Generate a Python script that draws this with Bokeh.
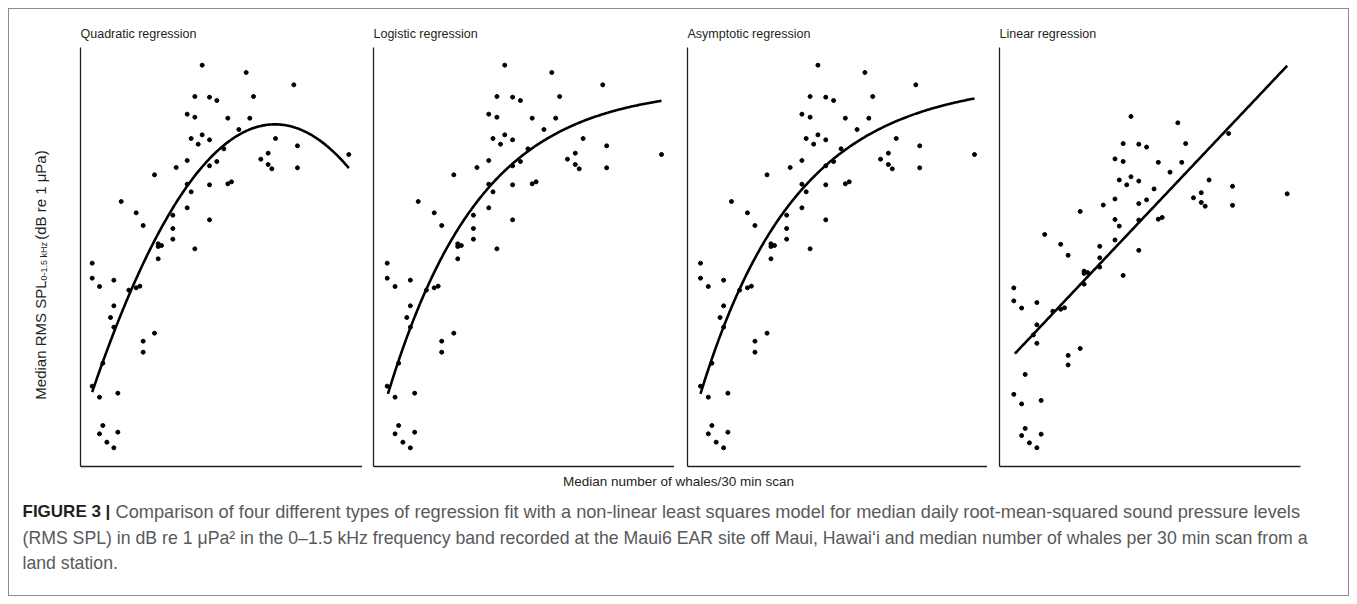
import numpy as np
from bokeh.plotting import figure
from bokeh.layouts import row, column
from bokeh.models import Range1d
from bokeh.core.properties import value
from bokeh.embed import file_html
from bokeh.resources import INLINE

# --- data: one point per day (median whales / 30 min scan, median RMS SPL dB re 1 uPa) ---
whales = [0.30, 0.30, 0.52, 0.95, 0.95, 0.85, 0.95, 0.62, 0.30, 0.52,
          1.07, 0.62, 0.52, 1.07, 0.74, 0.95, 1.17, 1.62, 1.83, 1.40,
          1.62, 1.73, 1.83, 1.83, 2.17, 2.17, 2.28, 2.28, 2.38, 2.28,
          2.72, 2.72, 2.72, 2.82, 3.15, 3.15, 3.27, 3.15, 3.38, 3.15,
          3.38, 3.27, 3.48, 3.60, 3.38, 3.82, 4.04, 3.60, 3.82, 3.82,
          4.04, 4.25, 3.82, 3.82, 4.37, 4.48, 4.37, 4.70, 4.92, 5.03,
          5.14, 5.36, 5.58, 5.58, 5.69, 5.80, 6.35, 6.46, 6.46, 8.00]
spl = [105.72, 105.27, 105.02, 105.21, 104.44, 104.09, 103.80, 102.72, 102.03, 101.70,
       101.82, 100.85, 100.60, 100.65, 100.35, 100.18, 107.57, 107.23, 106.85, 104.91,
       104.98, 105.03, 103.38, 103.05, 103.62, 108.37, 106.30, 106.22, 106.25, 105.85,
       107.16, 106.76, 106.44, 108.59, 108.80, 108.09, 107.86, 107.38, 106.15, 110.19,
       110.10, 109.46, 109.29, 109.57, 110.72, 110.70, 110.60, 111.66, 109.42, 108.64,
       108.77, 109.15, 108.07, 107.02, 108.10, 108.16, 110.07, 109.73, 111.44, 110.07,
       110.72, 108.84, 109.02, 108.68, 108.55, 109.46, 111.07, 109.24, 108.58, 108.98]

# fitted model parameters
quad_a, quad_b, quad_c = 100.95, 3.089, -0.267
logis_asym, logis_xmid, logis_scal = 111.0, -5.46, 2.405
asym_asym, asym_r0, asym_rate = 111.2, 100.69, 0.371
lin_a, lin_b = 103.01, 1.301
fit_from = [0.30, 0.32, 0.30, 0.33]
fit_to = 8.0

titles = ["Quadratic regression", "Logistic regression",
          "Asymptotic regression", "Linear regression"]

FONT = value("Liberation Sans")
INK = "#231f20"


def quadratic(x):
    return quad_a + quad_b * x + quad_c * x ** 2


def logistic(x):
    return logis_asym / (1 + np.exp((logis_xmid - x) / logis_scal))


def asymptotic(x):
    return asym_asym + (asym_r0 - asym_asym) * np.exp(-asym_rate * x)


def linear(x):
    return lin_a + lin_b * x


models = [quadratic, logistic, asymptotic, linear]

# panel geometry: x range, y range, width, left border, right border
panel_cfg = [
    ((-0.051, 8.411), (99.62, 112.19), 287, 5, 0),
    ((-0.085, 8.365), (99.62, 112.19), 312, 11, 0),
    ((-0.065, 8.365), (99.62, 112.19), 313, 13, 0),
    ((-0.103, 8.375), (99.53, 114.05), 361, 12, 48),
]

ROW_H = 464

panels = []
for title, model, start, (xr, yr, w, bl, br) in zip(titles, models, fit_from, panel_cfg):
    p = figure(width=w, height=ROW_H, x_range=Range1d(*xr), y_range=Range1d(*yr),
               toolbar_location=None, output_backend="svg",
               min_border_left=bl, min_border_right=br,
               min_border_top=38, min_border_bottom=7)
    p.title.text = title
    p.title.align = "left"
    p.title.text_font = "Liberation Sans"
    p.title.text_font_size = "12.5px"
    p.title.text_font_style = "normal"
    p.title.text_color = INK
    p.title.standoff = 13
    p.xgrid.visible = False
    p.ygrid.visible = False
    p.outline_line_color = None
    for ax in (p.xaxis[0], p.yaxis[0]):
        ax.ticker = []
        ax.major_tick_line_color = None
        ax.minor_tick_line_color = None
        ax.major_label_text_font_size = "0px"
        ax.axis_line_color = INK
        ax.axis_line_width = 1.3

    p.scatter(whales, spl, marker="circle", size=4, color="black")
    xs = np.linspace(start, fit_to, 200)
    p.line(xs, model(xs), line_width=2.6, color="black")
    panels.append(p)

# y axis title with subscript, drawn as rotated text
ylab = figure(width=66, height=ROW_H, x_range=Range1d(0, 66), y_range=Range1d(0, ROW_H),
              toolbar_location=None, output_backend="svg", min_border=0,
              x_axis_type=None, y_axis_type=None)
ylab.outline_line_color = None
ylab.grid.visible = False
ylab.text(x=[31, 31], y=[74, 251], text=["Median RMS SPL", " (dB re 1 \u03bcPa)"],
          angle=np.pi / 2, text_font=FONT, text_font_size=value("15px"),
          text_color=INK, text_align="left", text_baseline="alphabetic")
ylab.text(x=[34.5], y=[206], text=["0-1.5 kHz"], angle=np.pi / 2,
          text_font=FONT, text_font_size=value("9px"),
          text_color=INK, text_align="left", text_baseline="alphabetic")

# shared x label and figure caption
CAP_W, CAP_H = 1339, 122
cap = figure(width=CAP_W, height=CAP_H, x_range=Range1d(0, CAP_W), y_range=Range1d(0, CAP_H),
             toolbar_location=None, output_backend="svg", min_border=0,
             x_axis_type=None, y_axis_type=None)
cap.outline_line_color = None
cap.grid.visible = False
cap.text(x=[669], y=[114], text=["Median number of whales/30 min scan"],
         text_font=FONT, text_font_size=value("13.5px"), text_color=INK,
         text_align="center", text_baseline="alphabetic")
cap.text(x=[13], y=[84], text=["FIGURE 3 |"], text_font=FONT,
         text_font_size=value("17px"), text_font_style="bold", text_color=INK,
         text_align="left", text_baseline="alphabetic")
caption_lines = [
    "Comparison of four different types of regression fit with a non-linear least squares "
    "model for median daily root-mean-squared sound pressure levels",
    "(RMS SPL) in dB re 1 \u03bcPa\u00b2 in the 0\u20131.5 kHz frequency band recorded at the "
    "Maui6 EAR site off Maui, Hawai\u2018i and median number of whales per 30 min scan from a",
    "land station.",
]
caption_x = [106, 13, 13]
caption_y = [84, 58, 33]
caption_size = ["18.2px", "17.7px", "17.7px"]
for cx, cy, line, size in zip(caption_x, caption_y, caption_lines, caption_size):
    cap.text(x=[cx], y=[cy], text=[line], text_font=FONT,
             text_font_size=value(size), text_color="#58595b",
             text_align="left", text_baseline="alphabetic")

layout = column(row(ylab, *panels), cap,
                styles={"border": "1px solid #8c8c8c", "margin": "8px"})

open("out.html", "w").write(file_html(layout, INLINE))
